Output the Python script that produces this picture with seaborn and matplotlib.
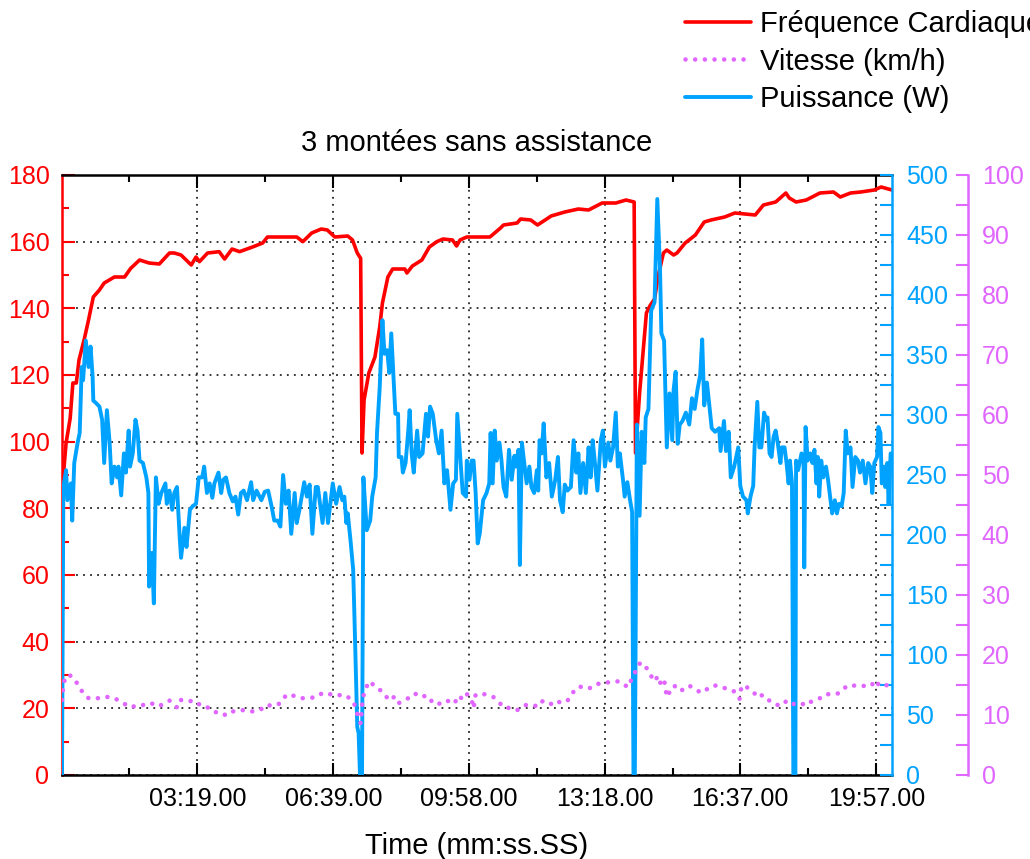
import matplotlib
matplotlib.use("Agg")
import matplotlib.pyplot as plt
from matplotlib.ticker import MultipleLocator, FixedLocator
import seaborn as sns

# heart rate (bpm) against time (s)
hr_time = [0, 6, 12, 16, 21, 25, 33, 39, 46, 55, 62, 77, 92, 101, 114, 128, 143, 158, 165, 175,
           190, 197, 202, 214, 231, 239, 250, 261, 280, 295, 302, 324, 345, 354, 367, 381, 390, 401,
           420, 427, 434, 439, 441, 444, 451, 460, 467, 471, 479, 486, 504, 507, 515, 529, 540, 551,
           560, 574, 580, 585, 595, 629, 644, 649, 669, 674, 689, 699, 719, 739, 759, 774, 794, 814,
           829, 841, 843, 849, 854, 859, 864, 871, 876, 884, 889, 899, 904, 916, 931, 944, 954, 974,
           989, 1019, 1031, 1049, 1064, 1069, 1079, 1094, 1114, 1134, 1144, 1159, 1174, 1194, 1204, 1220]
hr_vals = [85, 99.6, 107, 117.6, 117.6, 124.5, 131, 136.5, 143.4, 145.5, 147.6, 149.4, 149.4, 152, 154.5,
           153.6, 153.3, 156.6, 156.6, 156, 153, 155.4, 154, 156.6, 157, 154.8, 157.8, 157, 158.4, 159.6,
           161.4, 161.4, 161.4, 160, 162.6, 163.8, 163.5, 161.4, 161.7, 160.5, 156.6, 155, 96.6, 112.5,
           120.6, 125.4, 134.4, 141.6, 149.4, 151.8, 151.8, 150.6, 152.7, 154.5, 158.4, 160, 160.8, 160.5,
           158.7, 160.5, 161.4, 161.4, 164, 165, 165.6, 166.8, 166.5, 165, 167.7, 168.9, 169.8, 169.5,
           171.6, 171.6, 172.5, 171.9, 96.6, 114.6, 126.6, 138.6, 140.7, 142.8, 149.4, 156.6, 157.5, 156,
           156.6, 159.6, 162, 165.9, 166.5, 167.4, 168.6, 168, 171, 171.9, 174.6, 173.1, 171.9, 172.5,
           174.6, 174.9, 173.4, 174.6, 174.9, 175.5, 176.4, 175.5]

# power (W) against time (s)
power_time = [0, 2, 6, 8, 13, 15, 18, 23, 26, 29, 31, 35, 39, 42, 45, 46, 50, 55, 59, 62, 66, 70, 73, 77,
              81, 83, 87, 91, 94, 98, 100, 104, 108, 111, 114, 119, 124, 127, 128, 132, 135, 138, 142,
              146, 152, 154, 158, 162, 165, 169, 173, 175, 180, 183, 188, 192, 197, 201, 206, 209, 213,
              217, 221, 224, 230, 234, 237, 241, 246, 251, 255, 259, 263, 267, 272, 278, 281, 286, 293,
              298, 303, 308, 312, 317, 321, 325, 329, 333, 337, 342, 345, 349, 356, 360, 364, 368, 373,
              376, 383, 387, 391, 394, 398, 403, 408, 412, 415, 418, 420, 424, 428, 430, 434, 436, 438,
              441, 443, 448, 453, 456, 461, 463, 467, 471, 474, 478, 481, 484, 487, 490, 494, 495, 499,
              501, 505, 509, 511, 514, 517, 522, 525, 530, 535, 538, 541, 545, 550, 554, 558, 562, 566,
              571, 575, 579, 581, 585, 589, 594, 595, 599, 602, 605, 608, 611, 614, 617, 619, 624, 628,
              630, 633, 636, 639, 643, 646, 649, 653, 657, 661, 665, 667, 671, 673, 676, 679, 683, 687,
              690, 694, 698, 700, 702, 705, 708, 712, 716, 720, 725, 729, 732, 736, 739, 743, 748, 752,
              756, 759, 762, 766, 770, 774, 777, 780, 783, 787, 792, 795, 798, 803, 806, 810, 814, 817,
              820, 825, 827, 831, 835, 838, 840, 842, 845, 849, 852, 856, 858, 862, 866, 871, 875, 879,
              881, 885, 889, 893, 897, 899, 902, 905, 908, 912, 917, 922, 926, 930, 934, 938, 941, 944,
              948, 951, 955, 960, 966, 968, 973, 976, 980, 983, 988, 994, 997, 1001, 1006, 1008, 1012,
              1016, 1018, 1022, 1025, 1028, 1032, 1035, 1037, 1040, 1043, 1046, 1049, 1052, 1056, 1058,
              1062, 1065, 1068, 1070, 1073, 1075, 1078, 1079, 1082, 1087, 1090, 1091, 1093, 1096, 1100,
              1103, 1106, 1109, 1111, 1113, 1116, 1119, 1123, 1126, 1129, 1132, 1136, 1139, 1142, 1146,
              1149, 1152, 1155, 1159, 1162, 1166, 1170, 1173, 1177, 1181, 1185, 1188, 1191, 1194, 1198,
              1200, 1203, 1205, 1208, 1210, 1213, 1215, 1218]
power_vals = [0, 240, 254, 229, 243, 212, 260, 277, 285, 340, 329, 362, 340, 357, 332, 312, 310, 307, 296,
              260, 304, 277, 243, 257, 248, 257, 233, 268, 252, 287, 257, 268, 296, 287, 262, 260, 248,
              235, 157, 185, 143, 248, 226, 235, 243, 226, 237, 221, 235, 240, 198, 181, 206, 190, 221,
              224, 226, 248, 248, 257, 235, 243, 231, 243, 252, 235, 246, 248, 235, 228, 232, 217, 235,
              237, 229, 244, 229, 237, 229, 236, 237, 224, 212, 212, 207, 250, 226, 237, 201, 235, 210,
              221, 244, 232, 242, 201, 240, 240, 210, 235, 210, 224, 243, 226, 240, 229, 232, 210, 218,
              196, 171, 129, 40, 35, 0, 0, 248, 204, 212, 232, 248, 285, 323, 379, 351, 354, 335, 368,
              335, 301, 301, 265, 265, 252, 260, 287, 304, 268, 252, 287, 265, 268, 301, 282, 307, 301,
              279, 268, 287, 243, 254, 221, 243, 246, 301, 268, 235, 232, 262, 246, 262, 262, 235, 193,
              201, 218, 229, 235, 243, 285, 243, 287, 262, 277, 262, 240, 232, 271, 246, 266, 257, 271,
              175, 277, 262, 243, 257, 240, 235, 254, 237, 279, 268, 293, 248, 260, 232, 246, 265, 229,
              219, 242, 237, 240, 279, 252, 268, 235, 260, 235, 273, 248, 279, 262, 237, 279, 287, 257,
              277, 262, 273, 302, 257, 268, 244, 232, 244, 229, 219, 0, 0, 292, 216, 286, 260, 298, 305,
              387, 394, 480, 422, 368, 362, 273, 318, 279, 321, 336, 276, 292, 295, 302, 292, 314, 305,
              321, 333, 363, 308, 327, 311, 289, 286, 289, 270, 295, 270, 286, 248, 257, 273, 241, 232,
              229, 218, 232, 241, 273, 311, 273, 273, 302, 296, 298, 268, 265, 282, 287, 277, 260, 273,
              273, 260, 243, 262, 243, 0, 0, 262, 254, 268, 260, 173, 290, 262, 268, 260, 271, 243, 265,
              232, 262, 248, 257, 246, 232, 218, 229, 218, 226, 224, 235, 287, 268, 273, 240, 265, 262,
              252, 262, 243, 260, 257, 235, 260, 265, 290, 285, 243, 257, 240, 260, 226, 268]

# speed (km/h) against time (s)
speed_time = [0, 2, 5, 10, 16, 21, 26, 31, 39, 45, 55, 62, 70, 77, 87, 94, 99, 109, 116, 124, 131, 138,
              143, 150, 158, 165, 170, 175, 182, 190, 197, 204, 209, 218, 227, 234, 240, 247, 254, 262,
              271, 278, 285, 293, 300, 306, 314, 320, 326, 333, 343, 350, 359, 368, 376, 383, 393, 402,
              413, 418, 428, 432, 435, 439, 442, 446, 451, 457, 463, 471, 477, 482, 488, 494, 501, 509,
              515, 522, 530, 535, 541, 545, 555, 561, 570, 577, 582, 590, 595, 602, 605, 608, 614, 620,
              626, 634, 639, 645, 651, 657, 663, 669, 676, 683, 690, 700, 707, 717, 725, 729, 737, 743,
              747, 752, 759, 766, 774, 780, 786, 793, 801, 809, 818, 826, 831, 840, 845, 850, 856, 861,
              866, 871, 876, 880, 885, 889, 894, 900, 907, 915, 922, 930, 940, 948, 956, 963, 971, 979,
              987, 994, 996, 999, 1007, 1015, 1023, 1029, 1035, 1041, 1048, 1055, 1061, 1066, 1073,
              1080, 1088, 1094, 1101, 1108, 1116, 1123, 1132, 1141, 1147, 1154, 1161, 1169, 1175, 1182,
              1190, 1196, 1201, 1210, 1215]
speed_vals = [12.5, 15, 16.3, 16.7, 16.3, 15.5, 14.5, 13.7, 12.8, 12.8, 12.8, 13, 13, 12.8, 12.2, 11.7,
              11.3, 11.5, 11.5, 11.9, 12, 11.5, 11.5, 11.9, 12.4, 11.6, 11.2, 12.5, 12.5, 12.3, 12.3,
              11.5, 11.3, 11.2, 10.4, 10.4, 10, 10.6, 10.6, 10.8, 10.8, 10.6, 10.6, 11, 11, 11.7, 11.7,
              11.9, 12.9, 13.5, 13.1, 12.8, 12.8, 12.9, 13.1, 13.7, 13.5, 13.2, 13.4, 13.2, 12.3, 11.1,
              9.7, 8.6, 12.8, 14.2, 15.6, 15.1, 14.5, 13.9, 13, 12.4, 13, 11.9, 12.4, 12.8, 13.5, 13.5,
              13.5, 12.8, 12.8, 11.9, 11.9, 12.4, 12.3, 11.9, 13.2, 12.6, 13.5, 12.6, 11.1, 13.4, 13.5,
              13.5, 13.2, 13, 12.4, 11.8, 11.8, 11.1, 11, 10.8, 11.4, 11.7, 11.7, 11.4, 12.4, 11.9, 11.7,
              12.2, 12, 12.4, 13, 13.9, 14.7, 14.7, 14.4, 14.7, 15.2, 15.2, 15.4, 15.6, 15.6, 15.2, 14.6,
              16.5, 17.8, 18.7, 18.4, 17.5, 16.5, 15.6, 16.5, 15.2, 15.9, 13, 14, 14.9, 14, 14.3, 14.9,
              14.3, 13.7, 14.3, 14.9, 14.9, 14.6, 14.3, 14, 13.3, 12.7, 14.9, 14.6, 14, 12.9, 13.3,
              13.1, 12.2, 11.9, 11.5, 12, 12.4, 11.8, 11.9, 11.7, 12.4, 12.2, 12.5, 12.9, 13.5, 13.4,
              13.6, 14.1, 14.9, 14.9, 14.9, 14.8, 14.9, 15.3, 14.5, 15.4, 15, 14.9]

x_ticks = [199, 399, 598, 798, 997, 1197]
x_minor = [99, 299, 499, 698, 898, 1097]
x_labels = ["03:19.00", "06:39.00", "09:58.00", "13:18.00", "16:37.00", "19:57.00"]

RED = "#FF0000"
CYAN = "#00A2FF"
VIOLET = "#E066FF"

sns.set_style("ticks")
plt.rcParams["font.family"] = ["Liberation Sans", "DejaVu Sans"]
plt.rcParams["text.color"] = "black"
plt.rcParams["axes.labelcolor"] = "black"
plt.rcParams["xtick.color"] = "black"

fig = plt.figure(figsize=(10.3, 8.59), dpi=100)
ax = fig.add_axes([62 / 1030, 84 / 859, 830 / 1030, 600 / 859])
ax2 = ax.twinx()
ax3 = ax.twinx()
ax3.spines["right"].set_position(("axes", 1.0915))

sns.lineplot(x=hr_time, y=hr_vals, ax=ax, color=RED, lw=2.6, estimator=None, sort=False, legend=False)
sns.lineplot(x=power_time, y=power_vals, ax=ax2, color=CYAN, lw=2.8, estimator=None, sort=False, legend=False)
sns.lineplot(x=speed_time, y=speed_vals, ax=ax3, color=VIOLET, lw=3.3, linestyle=(0, (0.01, 2.1)),
             dash_capstyle="round", estimator=None, sort=False, legend=False)

ax.set_xlim(0, 1220)
ax.set_ylim(0, 180)
ax2.set_ylim(0, 500)
ax3.set_ylim(0, 100)

# spines
for a in (ax, ax2, ax3):
    for s in a.spines.values():
        s.set_linewidth(1.8)
ax.spines["left"].set_color(RED)
ax.spines["top"].set_color("black")
ax.spines["bottom"].set_color("black")
ax.spines["right"].set_visible(False)
for a, c in ((ax2, CYAN), (ax3, VIOLET)):
    for side in ("left", "top", "bottom"):
        a.spines[side].set_visible(False)
    a.spines["right"].set_visible(True)
    a.spines["right"].set_color(c)

# ticks
ax.xaxis.set_major_locator(FixedLocator(x_ticks))
ax.xaxis.set_minor_locator(FixedLocator(x_minor))
ax.set_xticklabels(x_labels)
ax.yaxis.set_major_locator(MultipleLocator(20))
ax.yaxis.set_minor_locator(MultipleLocator(10))
ax2.yaxis.set_major_locator(MultipleLocator(50))
ax2.yaxis.set_minor_locator(MultipleLocator(25))
ax3.yaxis.set_major_locator(MultipleLocator(10))
ax3.yaxis.set_minor_locator(MultipleLocator(5))

ax.tick_params(axis="x", which="both", direction="in", top=True, bottom=True, colors="black",
               labelsize=18, pad=9, width=1.5)
ax.tick_params(axis="x", which="major", length=9)
ax.tick_params(axis="x", which="minor", length=5)
ax.tick_params(axis="y", which="both", direction="in", colors=RED, labelsize=18, pad=9, width=1.5)
ax.tick_params(axis="y", which="major", length=9)
ax.tick_params(axis="y", which="minor", length=5)
for a, c in ((ax2, CYAN), (ax3, VIOLET)):
    a.tick_params(axis="y", which="both", direction="in", colors=c, labelsize=18, pad=10,
                  width=1.5, length=9, left=False, right=True)

ax.grid(True, which="major", color="black", linestyle=(0, (1.2, 3.4)), linewidth=1.1)
ax2.grid(False)
ax3.grid(False)
ax.set_ylabel("")
ax2.set_ylabel("")
ax3.set_ylabel("")

ax.set_title("3 montées sans assistance", fontsize=21, pad=17, color="black")
ax.set_xlabel("Time (mm:ss.SS)", fontsize=21, labelpad=15, color="black")

fig.legend(handles=[ax.lines[0], ax3.lines[0], ax2.lines[0]],
           labels=["Fréquence Cardiaque", "Vitesse (km/h)", "Puissance (W)"],
           loc="upper left", bbox_to_anchor=(0.665, 0.988), frameon=False, fontsize=21,
           handlelength=2.25, handletextpad=0.34, labelspacing=0.32, borderpad=0, borderaxespad=0,
           labelcolor="black")

fig.savefig("out.png", dpi=100)
